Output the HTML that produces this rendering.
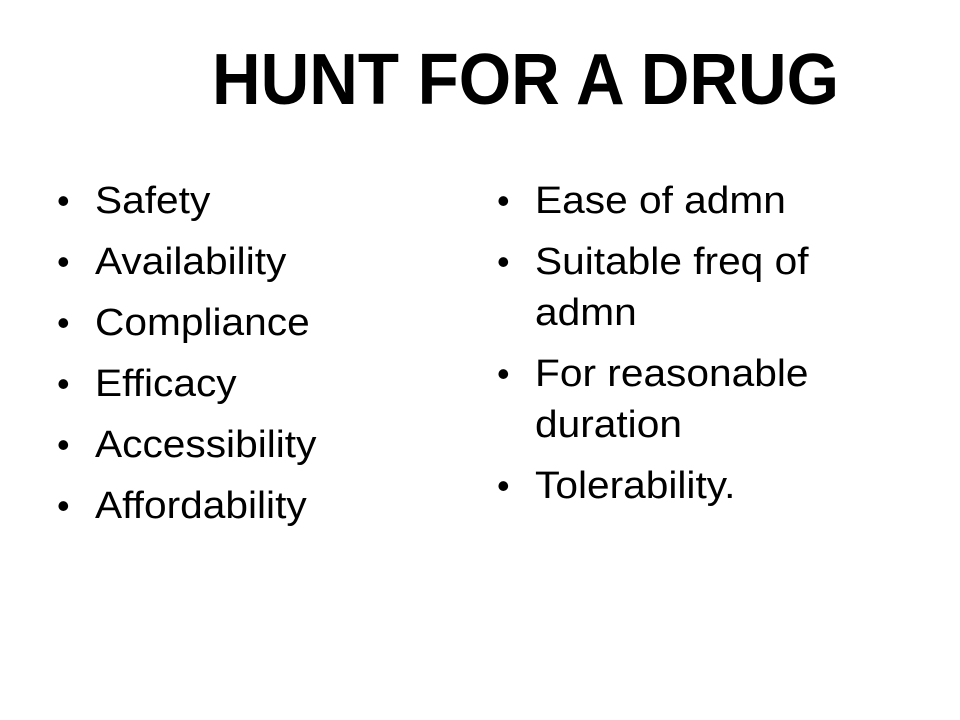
<!DOCTYPE html>
<html>
<head>
<meta charset="utf-8">
<style>
  html,body{margin:0;padding:0;background:#fff;}
  #slide{position:relative;width:960px;height:720px;overflow:hidden;background:#fff;font-family:"Liberation Sans",sans-serif;color:#000;}
  .title{position:absolute;left:212px;top:44px;font-size:72px;line-height:72px;font-weight:bold;white-space:nowrap;transform-origin:0 0;transform:scaleX(0.935);}
  .item{position:absolute;font-size:38px;line-height:38px;white-space:nowrap;transform-origin:0 0;transform:scaleX(1.07);}
  .bullet{position:absolute;font-size:36px;line-height:38px;}
</style>
</head>
<body>
<div id="slide">
  <div class="title">HUNT FOR A DRUG</div>

  <div>
    <div class="bullet" style="left:57px;top:182px">•</div>
    <div class="item" style="left:95px;top:182px">Safety</div>
    <div class="bullet" style="left:57px;top:243px">•</div>
    <div class="item" style="left:95px;top:243px">Availability</div>
    <div class="bullet" style="left:57px;top:304px">•</div>
    <div class="item" style="left:95px;top:304px">Compliance</div>
    <div class="bullet" style="left:57px;top:365px">•</div>
    <div class="item" style="left:95px;top:365px">Efficacy</div>
    <div class="bullet" style="left:57px;top:426px">•</div>
    <div class="item" style="left:95px;top:426px">Accessibility</div>
    <div class="bullet" style="left:57px;top:487px">•</div>
    <div class="item" style="left:95px;top:487px">Affordability</div>
  </div>

  <div>
    <div class="bullet" style="left:497px;top:182px">•</div>
    <div class="item" style="left:535px;top:182px">Ease of admn</div>
    <div class="bullet" style="left:497px;top:243px">•</div>
    <div class="item" style="left:535px;top:243px">Suitable freq of</div>
    <div class="item" style="left:535px;top:294px">admn</div>
    <div class="bullet" style="left:497px;top:355px">•</div>
    <div class="item" style="left:535px;top:355px">For reasonable</div>
    <div class="item" style="left:535px;top:406px">duration</div>
    <div class="bullet" style="left:497px;top:467px">•</div>
    <div class="item" style="left:535px;top:467px">Tolerability.</div>
  </div>
</div>
</body>
</html>
